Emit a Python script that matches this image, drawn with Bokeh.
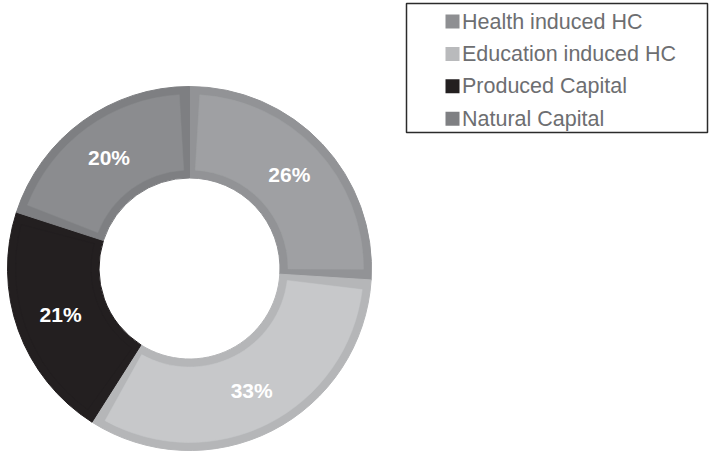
import math
from bokeh.plotting import figure
from bokeh.models import ColumnDataSource, Range1d
from bokeh.core.properties import value
from bokeh.embed import file_html
from bokeh.resources import INLINE

# ---- data ----
categories = ["Health induced HC", "Education induced HC", "Produced Capital", "Natural Capital"]
shares = [26, 33, 21, 20]
fill_colors = ["#9fa0a3", "#c7c8ca", "#231f20", "#8b8c8f"]
border_colors = ["#929396", "#b5b6b8", "#231f20", "#7e7f82"]
legend_colors = ["#8e8f92", "#b9babc", "#231f20", "#7f8083"]

# ---- layout constants ----
W, H = 709, 454
CX, CY = 189, H - 268
R_OUT, R_IN = 182, 90.5
BORDER = 8
LABEL_R = 137

p = figure(width=W, height=H, output_backend="svg", toolbar_location=None,
           x_range=Range1d(0, W), y_range=Range1d(0, H),
           x_axis_type=None, y_axis_type=None, min_border=0)
p.outline_line_color = None
p.grid.visible = False
p.background_fill_color = "white"
p.border_fill_color = "white"

total = float(sum(shares))
starts, ends, mids = [], [], []
cum = 0.0
for s in shares:
    a0 = math.pi / 2 - 2 * math.pi * cum / total
    cum += s
    a1 = math.pi / 2 - 2 * math.pi * cum / total
    starts.append(a0)
    ends.append(a1)
    mids.append((a0 + a1) / 2)

r_mid = (R_IN + BORDER + R_OUT - BORDER) / 2.0
d = BORDER / r_mid

src = ColumnDataSource(dict(
    x=[CX] * len(shares), y=[CY] * len(shares),
    start=starts, end=ends,
    istart=[a - d for a in starts], iend=[a + d for a in ends],
    fill=fill_colors, border=border_colors,
    lx=[CX + LABEL_R * math.cos(m) for m in mids],
    ly=[CY + LABEL_R * math.sin(m) for m in mids],
    label=["%d%%" % s for s in shares],
))

# outer (border) ring
p.annular_wedge(x="x", y="y", inner_radius=R_IN, outer_radius=R_OUT,
                start_angle="start", end_angle="end", direction="clock",
                fill_color="border", line_color="border", line_width=1, source=src)
# inner fill
p.annular_wedge(x="x", y="y", inner_radius=R_IN + BORDER, outer_radius=R_OUT - BORDER,
                start_angle="istart", end_angle="iend", direction="clock",
                fill_color="fill", line_color="fill", line_width=0.5, source=src)

p.text(x="lx", y="ly", text="label", source=src, text_color="white",
       text_font=value("Liberation Sans"), text_font_style="bold",
       text_font_size="21px", text_align="center", text_baseline="middle")

# ---- legend (manual box) ----
BOX_L, BOX_R, BOX_T, BOX_B = 406, 707, H - 3, H - 132
p.quad(left=[BOX_L], right=[BOX_R], top=[BOX_T], bottom=[BOX_B],
       fill_color=None, line_color="#2b2b2b", line_width=1.5)

ROW0, ROW_STEP = 21, 32.4
leg = ColumnDataSource(dict(
    sx=[452] * len(categories),
    tx=[461.5] * len(categories),
    y=[H - (ROW0 + i * ROW_STEP) for i in range(len(categories))],
    name=categories, color=legend_colors,
))
p.scatter(x="sx", y="y", marker="square", size=14, fill_color="color",
          line_color=None, source=leg)
p.text(x="tx", y="y", text="name", source=leg, text_color="#6d6e71",
       text_font=value("Liberation Sans"), text_font_size="21.5px",
       text_align="left", text_baseline="middle")

open("out.html", "w").write(file_html(p, INLINE))
